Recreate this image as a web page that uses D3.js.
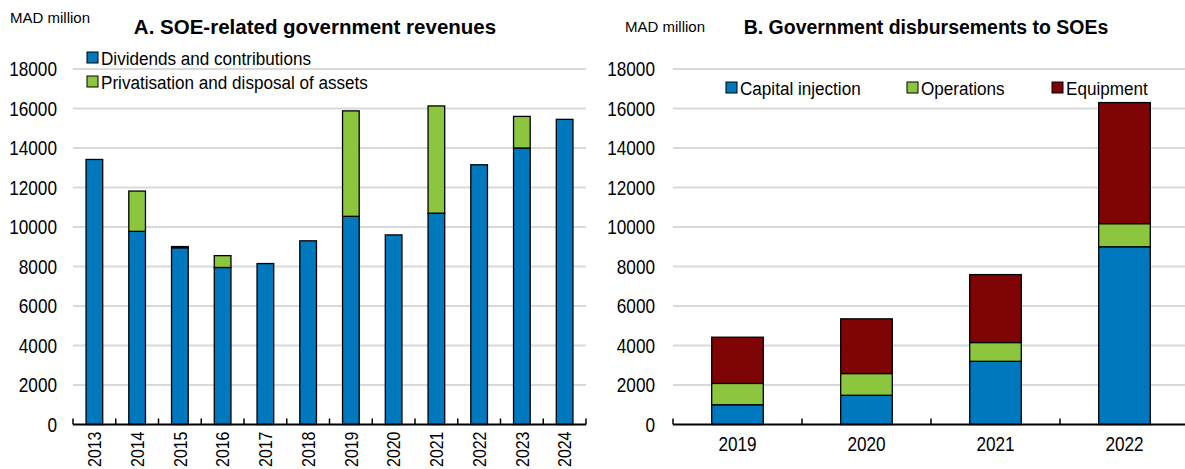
<!DOCTYPE html>
<html>
<head>
<meta charset="utf-8">
<script src="https://cdn.jsdelivr.net/npm/d3@7"></script>
<style>
  body { margin: 0; background: #fff; }
  text { font-family: 'Liberation Sans', Arial, sans-serif; fill: #000; }
</style>
</head>
<body>
<div id="chart"></div>
<script>
var width = 1185;
var height = 469;

// panel A
var yearsA = ["2013","2014","2015","2016","2017","2018","2019","2020","2021","2022","2023","2024"];
var dividends = [13420, 9780, 8950, 7950, 8150, 9300, 10540, 9600, 10700, 13150, 14000, 15450];
var privatisation = [0, 2040, 60, 600, 0, 0, 5340, 0, 5430, 0, 1600, 0];

// panel B
var yearsB = ["2019","2020","2021","2022"];
var capital = [1000, 1480, 3200, 9000];
var operations = [1080, 1100, 950, 1170];
var equipment = [2340, 2770, 3440, 6130];

var yTicks = [0, 2000, 4000, 6000, 8000, 10000, 12000, 14000, 16000, 18000];

var blue = "#0078bd", green = "#8cc63f", red = "#7f0406";

var svg = d3.select("#chart").append("svg")
    .attr("width", width)
    .attr("height", height);

var y = d3.scaleLinear().domain([0, 18000]).range([424.5, 69]);

// narrow-looking text: squeeze horizontally (no Arial Narrow here)
function squeeze(sel, fx, fy, sx, rot) {
    sel.attr("transform", function(d, i){
        return "translate(" + fx(d, i) + "," + fy(d, i) + ")" +
            (rot ? " rotate(" + rot + ")" : "") + " scale(" + sx + ",1)";
    });
}

function drawPanel(opt) {
    var g = svg.append("g");
    var x = d3.scaleBand().domain(opt.cats)
        .range(opt.xr)
        .paddingInner(opt.pad).paddingOuter(opt.pad / 2);

    // gridlines
    g.selectAll("line.grid").data(yTicks.slice(1)).enter().append("line")
        .attr("x1", opt.xr[0]).attr("x2", opt.xr[1])
        .attr("y1", function(d){ return y(d); })
        .attr("y2", function(d){ return y(d); })
        .style("stroke", "#d9d9d9").style("stroke-width", 2);

    var yl = g.selectAll("text.ytick").data(yTicks).enter().append("text")
        .attr("dy", "0.35em")
        .attr("text-anchor", "end")
        .style("font-size", "20px")
        .text(function(d){ return d; });
    squeeze(yl, function(){ return opt.labelX; }, function(d){ return y(d); }, 0.86);

    var rows = opt.cats.map(function(c, i){
        var r = {cat: c};
        opt.keys.forEach(function(k, j){ r[k] = opt.series[j][i]; });
        return r;
    });
    var stack = d3.stack().keys(opt.keys)(rows);

    g.selectAll("g.layer").data(stack).enter().append("g")
        .style("fill", function(d, i){ return opt.colors[i]; })
        .selectAll("rect").data(function(d){ return d; }).enter()
        .filter(function(d){ return d[1] - d[0] > 0; })
        .append("rect")
        .attr("x", function(d){ return x(d.data.cat); })
        .attr("width", x.bandwidth())
        .attr("y", function(d){ return y(d[1]); })
        .attr("height", function(d){ return y(d[0]) - y(d[1]); })
        .style("stroke", "#000").style("stroke-width", 1.3);

    // x axis line + ticks between bands
    var step = x.step();
    var bounds = d3.range(opt.cats.length + 1).map(function(i){ return opt.xr[0] + i * step; });
    g.append("line")
        .attr("x1", opt.xr[0]).attr("x2", opt.xr[1])
        .attr("y1", y(0)).attr("y2", y(0))
        .style("stroke", "#000").style("stroke-width", 2);
    g.selectAll("line.tick").data(bounds).enter().append("line")
        .attr("x1", function(d){ return d; }).attr("x2", function(d){ return d; })
        .attr("y1", y(0)).attr("y2", y(0) - 6)
        .style("stroke", "#000").style("stroke-width", 1.5);

    var xl = g.selectAll("text.xl").data(opt.cats).enter().append("text")
        .style("font-size", opt.xFont)
        .text(function(d){ return d; });
    var cx = function(d){ return x(d) + x.bandwidth() / 2; };
    if (opt.rotate) {
        xl.attr("dy", "0.35em").attr("text-anchor", "end");
        squeeze(xl, cx, function(){ return y(0) + 7; }, 0.84, -90);
    } else {
        xl.attr("text-anchor", "middle");
        squeeze(xl, cx, function(){ return y(0) + 26; }, 0.86);
    }

    svg.append("text")
        .attr("x", opt.unitX).attr("y", opt.unitY)
        .style("font-size", "15px")
        .text("MAD million");
    var t = svg.append("text")
        .attr("text-anchor", "middle")
        .style("font-size", "20.5px").style("font-weight", "bold")
        .text(opt.title);
    squeeze(t, function(){ return opt.titleX; }, function(){ return 34; }, opt.titleSx);

    var leg = svg.selectAll(null).data(opt.legend).enter().append("g")
        .attr("transform", function(d){ return "translate(" + d.x + "," + d.y + ")"; });
    leg.append("rect")
        .attr("x", 0).attr("y", -6).attr("width", 11).attr("height", 11)
        .style("fill", function(d){ return d.color; })
        .style("stroke", "#000").style("stroke-width", 1);
    var lt = leg.append("text")
        .attr("dy", "0.35em")
        .style("font-size", "19px")
        .text(function(d){ return d.name; });
    squeeze(lt, function(){ return 14; }, function(){ return 0; }, 0.9);
}

drawPanel({
    cats: yearsA,
    keys: ["dividends", "privatisation"],
    series: [dividends, privatisation],
    colors: [blue, green],
    xr: [73, 586],
    pad: 0.61,
    labelX: 57,
    rotate: true,
    xFont: "19px",
    unitX: 10, unitY: 23,
    title: "A. SOE-related government revenues", titleX: 315, titleSx: 1,
    legend: [
        {name: "Dividends and contributions", color: blue, x: 87, y: 58},
        {name: "Privatisation and disposal of assets", color: green, x: 87, y: 82}
    ]
});

drawPanel({
    cats: yearsB,
    keys: ["capital", "operations", "equipment"],
    series: [capital, operations, equipment],
    colors: [blue, green, red],
    xr: [673, 1189],
    pad: 0.6,
    labelX: 655,
    rotate: false,
    xFont: "20px",
    unitX: 625, unitY: 32,
    title: "B. Government disbursements to SOEs", titleX: 926, titleSx: 0.95,
    legend: [
        {name: "Capital injection", color: blue, x: 726, y: 88},
        {name: "Operations", color: green, x: 907, y: 88},
        {name: "Equipment", color: red, x: 1052, y: 88}
    ]
});
</script>
</body>
</html>
